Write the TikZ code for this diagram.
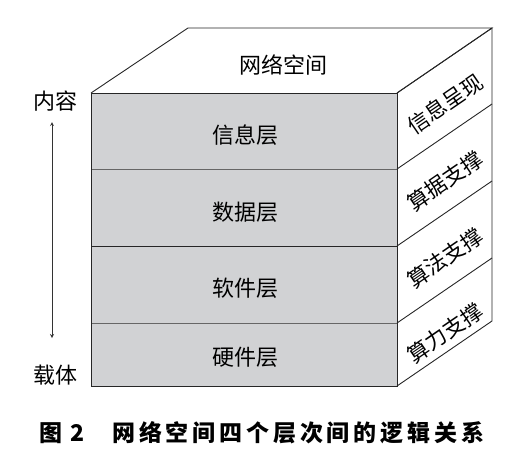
\documentclass[tikz,border=0pt]{standalone}
\usepackage{fontspec}
\newfontfamily\cjk{Noto Sans CJK SC}
\definecolor{layergray}{HTML}{D1D2D4}
\begin{document}
\begin{tikzpicture}[x=1pt,y=-1pt,
  edge/.style={draw=black!85,line width=0.9pt},
  lbl/.style={font=\cjk\fontsize{22}{24}\selectfont,inner sep=0pt},
  side/.style={font=\cjk\fontsize{21.5}{24}\selectfont,inner sep=0pt,rotate=34.4}]
\useasboundingbox (0,0) rectangle (524,456);
% corners
\coordinate (FTL) at (91,93);
\coordinate (FTR) at (397,93);
\coordinate (FBL) at (91,386);
\coordinate (FBR) at (397,386);
\coordinate (BTL) at (188,28);
\coordinate (BTR) at (492,28);
\coordinate (BBR) at (492,321);
\coordinate (D1L) at (91,169);
\coordinate (D1R) at (397,169);
\coordinate (D2L) at (91,246);
\coordinate (D2R) at (397,246);
\coordinate (D3L) at (91,323);
\coordinate (D3R) at (397,323);
\coordinate (E1) at (492,104);
\coordinate (E2) at (492,181);
\coordinate (E3) at (492,258);
% front face
\fill[layergray] (FTL) rectangle (FBR);
% top face
\draw[edge] (FTL) -- (BTL) -- (BTR) -- (FTR);
% right face
\draw[edge] (FTR) -- (BTR) -- (BBR) -- (FBR);
\draw[edge] (D1R) -- (E1);
\draw[edge] (D2R) -- (E2);
\draw[edge] (D3R) -- (E3);
% layer dividers
\draw[edge,draw=black!60] (D1L) -- (D1R);
\draw[edge] (D2L) -- (D2R);
\draw[edge,draw=black!60] (D3L) -- (D3R);
\draw[edge] (FTL) rectangle (FBR);
% labels
\node[lbl] (top) at (283,65) {网络空间};
\node[lbl] (l1) at (245,135) {信息层};
\node[lbl] (l2) at (245,212) {数据层};
\node[lbl] (l3) at (245,288) {软件层};
\node[lbl] (l4) at (245,357) {硬件层};
\node[side] (s1) at (445,104) {信息呈现};
\node[side] (s2) at (445,181) {算据支撑};
\node[side] (s3) at (445,258) {算法支撑};
\node[side] (s4) at (445,333) {算力支撑};
\node[lbl] (content) at (55,101) {内容};
\node[lbl] (carrier) at (55,375) {载体};
\draw[black!80,line width=0.8pt,<->,>=stealth] (52,122) -- (52,338);
\node[font=\cjk\bfseries\fontsize{23}{26}\selectfont,inner sep=0pt,anchor=west] (cap) at (39,433) {图\hspace{8pt}2\hspace{28pt}网\,络\,空\,间\,四\,个\,层\,次\,间\,的\,逻\,辑\,关\,系};
\end{tikzpicture}
\end{document}
